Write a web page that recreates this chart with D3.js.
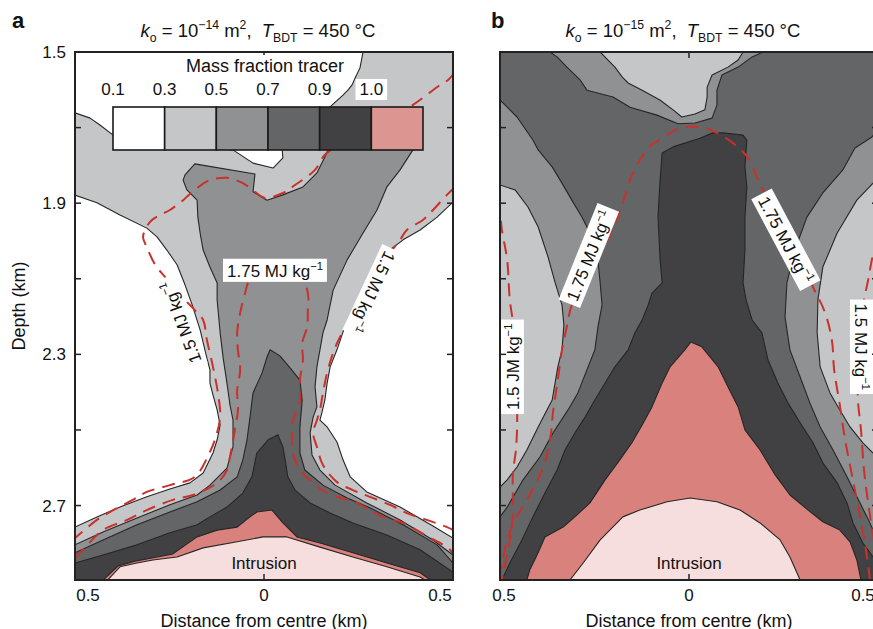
<!DOCTYPE html>
<html>
<head>
<meta charset="utf-8">
<script src="https://cdn.jsdelivr.net/npm/d3@7"></script>
<style>
body { margin: 0; background: #fff; }
text { font-family: "Liberation Sans", Arial, Helvetica, sans-serif; fill: #111; white-space: pre; }
</style>
</head>
<body>
<script>
// contour outlines, [distance from centre (km), depth (km)]
// panel a : ko = 1e-14
var massA03 = [[-0.54,2.95],[-0.54,2.757],[-0.5,2.757],[-0.442,2.730],[-0.381,2.704],[-0.310,2.677],[-0.249,2.656],[-0.196,2.640],[-0.161,2.614],[-0.135,2.561],[-0.124,2.526],[-0.116,2.487],[-0.124,2.447],[-0.135,2.407],[-0.143,2.376],[-0.143,2.341],[-0.153,2.302],[-0.169,2.235],[-0.190,2.169],[-0.209,2.116],[-0.230,2.063],[-0.257,2.024],[-0.283,1.989],[-0.310,1.966],[-0.381,1.931],[-0.442,1.899],[-0.54,1.865],[-0.54,1.661],[-0.5,1.661],[-0.460,1.675],[-0.434,1.693],[-0.399,1.720],[-0.222,1.746],[-0.082,1.759],[-0.029,1.794],[0.024,1.807],[0.050,1.780],[0.048,1.759],[0.122,1.693],[0.209,1.614],[0.222,1.601],[0.233,1.587],[0.241,1.569],[0.254,1.542],[0.262,1.500],[0.265,1.468],[0.545,1.468],[0.545,1.881],[0.5,1.897],[0.458,1.937],[0.413,1.971],[0.368,1.997],[0.333,2.024],[0.307,2.056],[0.280,2.098],[0.254,2.143],[0.228,2.196],[0.209,2.241],[0.193,2.288],[0.175,2.333],[0.167,2.376],[0.161,2.421],[0.153,2.455],[0.148,2.474],[0.167,2.492],[0.193,2.532],[0.209,2.579],[0.228,2.624],[0.272,2.664],[0.360,2.704],[0.447,2.754],[0.5,2.786],[0.545,2.794],[0.545,2.95]];
var massA05 = [[-0.183,1.796],[-0.024,1.823],[-0.029,1.870],[0.008,1.892],[0.050,1.878],[0.103,1.857],[0.140,1.820],[0.161,1.778],[0.169,1.759],[0.201,1.733],[0.373,1.733],[0.394,1.759],[0.360,1.812],[0.325,1.857],[0.299,1.918],[0.262,1.979],[0.220,2.050],[0.183,2.130],[0.175,2.169],[0.167,2.209],[0.156,2.243],[0.148,2.288],[0.140,2.333],[0.135,2.386],[0.140,2.439],[0.130,2.466],[0.122,2.508],[0.127,2.566],[0.148,2.606],[0.188,2.646],[0.272,2.693],[0.360,2.738],[0.447,2.791],[0.5,2.831],[0.545,2.836],[0.545,2.95],[-0.54,2.95],[-0.54,2.804],[-0.5,2.804],[-0.426,2.770],[-0.336,2.733],[-0.249,2.698],[-0.177,2.672],[-0.143,2.646],[-0.098,2.601],[-0.082,2.545],[-0.082,2.474],[-0.090,2.434],[-0.098,2.376],[-0.108,2.310],[-0.116,2.243],[-0.124,2.156],[-0.124,2.111],[-0.143,2.069],[-0.161,2.024],[-0.169,1.979],[-0.175,1.937],[-0.177,1.892],[-0.204,1.865],[-0.214,1.839],[-0.209,1.825]];
var massA07 = [[0.016,2.288],[0.042,2.304],[0.069,2.336],[0.095,2.368],[0.101,2.421],[0.095,2.492],[0.095,2.561],[0.108,2.606],[0.156,2.646],[0.220,2.680],[0.280,2.706],[0.368,2.751],[0.458,2.804],[0.5,2.852],[0.545,2.857],[0.545,2.95],[-0.54,2.95],[-0.54,2.825],[-0.5,2.825],[-0.426,2.791],[-0.336,2.751],[-0.249,2.717],[-0.177,2.690],[-0.116,2.659],[-0.071,2.624],[-0.056,2.579],[-0.045,2.526],[-0.037,2.466],[-0.029,2.402],[-0.005,2.349],[0.008,2.307]];
var massA09 = [[0.011,2.526],[0.037,2.513],[0.050,2.545],[0.056,2.579],[0.063,2.624],[0.082,2.659],[0.122,2.693],[0.175,2.720],[0.235,2.746],[0.325,2.778],[0.413,2.817],[0.5,2.876],[0.545,2.881],[0.545,2.95],[-0.54,2.95],[-0.54,2.852],[-0.5,2.852],[-0.426,2.831],[-0.336,2.804],[-0.249,2.772],[-0.177,2.751],[-0.143,2.730],[-0.098,2.704],[-0.056,2.667],[-0.032,2.624],[-0.019,2.561],[-0.005,2.545]];
var massA10 = [[-0.434,2.905],[-0.386,2.860],[-0.341,2.847],[-0.296,2.839],[-0.241,2.828],[-0.177,2.783],[-0.124,2.765],[-0.071,2.757],[-0.037,2.730],[-0.019,2.717],[0.021,2.712],[0.050,2.746],[0.087,2.783],[0.148,2.799],[0.235,2.825],[0.325,2.852],[0.413,2.878],[0.452,2.905]];
var intrusionA = [[-0.421,2.905],[-0.381,2.862],[-0.336,2.852],[-0.294,2.844],[-0.230,2.836],[-0.161,2.812],[-0.071,2.796],[-0.003,2.783],[0.061,2.783],[0.148,2.810],[0.235,2.836],[0.325,2.862],[0.413,2.889],[0.439,2.905]];
// specific enthalpy contours, panel a
var heatA15L = [[0.505,1.553],[0.487,1.574],[0.466,1.587],[0.394,1.640],[0.307,1.693],[0.214,1.738],[0.161,1.772],[0.135,1.812],[0.082,1.852],[0.050,1.873],[0.003,1.886],[-0.024,1.870],[-0.056,1.847],[-0.098,1.833],[-0.148,1.841],[-0.183,1.865],[-0.214,1.892],[-0.249,1.918],[-0.275,1.931],[-0.302,1.950],[-0.320,1.989],[-0.310,2.016],[-0.288,2.063],[-0.262,2.095],[-0.222,2.143],[-0.183,2.183],[-0.161,2.209],[-0.151,2.262],[-0.135,2.333],[-0.122,2.402],[-0.116,2.466],[-0.130,2.526],[-0.143,2.558],[-0.183,2.624],[-0.249,2.646],[-0.310,2.664],[-0.347,2.685],[-0.399,2.712],[-0.442,2.738],[-0.5,2.786]];
var heatA15R = [[0.505,1.857],[0.484,1.878],[0.447,1.918],[0.421,1.944],[0.378,1.971],[0.360,1.997],[0.320,2.050],[0.280,2.116],[0.241,2.183],[0.201,2.254],[0.183,2.296],[0.167,2.349],[0.156,2.402],[0.148,2.447],[0.140,2.474],[0.130,2.508],[0.140,2.545],[0.156,2.593],[0.193,2.638],[0.235,2.659],[0.280,2.677],[0.333,2.698],[0.378,2.720],[0.431,2.738],[0.484,2.757],[0.505,2.767]];
var heatA175 = [[-0.5,2.839],[-0.479,2.817],[-0.426,2.765],[-0.362,2.738],[-0.310,2.712],[-0.241,2.685],[-0.188,2.672],[-0.124,2.640],[-0.098,2.606],[-0.090,2.571],[-0.077,2.500],[-0.069,2.447],[-0.071,2.394],[-0.063,2.341],[-0.069,2.288],[-0.071,2.243],[-0.063,2.190],[-0.050,2.138],[-0.037,2.103],[0.029,2.077],[0.095,2.090],[0.116,2.138],[0.116,2.183],[0.114,2.228],[0.101,2.270],[0.103,2.315],[0.095,2.368],[0.095,2.421],[0.077,2.474],[0.074,2.519],[0.077,2.561],[0.095,2.606],[0.130,2.640],[0.167,2.667],[0.246,2.693],[0.315,2.730],[0.368,2.746],[0.426,2.778],[0.492,2.817],[0.505,2.839]];

// panel b : ko = 1e-15
var massB05 = [[-0.526,1.468],[-0.235,1.468],[-0.235,1.500],[-0.196,1.540],[-0.177,1.566],[-0.161,1.582],[-0.124,1.601],[-0.077,1.627],[-0.042,1.653],[-0.019,1.672],[0.016,1.664],[0.042,1.653],[0.048,1.619],[0.048,1.593],[0.061,1.561],[0.103,1.540],[0.130,1.521],[0.143,1.500],[0.146,1.468],[0.532,1.468],[0.532,1.825],[0.487,1.847],[0.444,1.892],[0.392,1.979],[0.354,2.069],[0.341,2.156],[0.339,2.243],[0.347,2.333],[0.373,2.402],[0.399,2.447],[0.426,2.492],[0.460,2.534],[0.487,2.561],[0.532,2.579],[0.532,2.95],[-0.526,2.95],[-0.526,2.651],[-0.5,2.651],[-0.481,2.632],[-0.455,2.598],[-0.429,2.553],[-0.399,2.492],[-0.362,2.421],[-0.347,2.333],[-0.336,2.288],[-0.331,2.222],[-0.336,2.169],[-0.354,2.111],[-0.373,2.042],[-0.399,1.963],[-0.426,1.910],[-0.460,1.865],[-0.5,1.852],[-0.526,1.852]];
var massB07 = [[-0.526,1.468],[-0.373,1.468],[-0.368,1.500],[-0.349,1.513],[-0.323,1.540],[-0.288,1.574],[-0.270,1.601],[-0.201,1.619],[-0.156,1.646],[-0.085,1.667],[-0.029,1.690],[0.016,1.688],[0.061,1.675],[0.074,1.640],[0.074,1.601],[0.087,1.561],[0.130,1.540],[0.167,1.513],[0.196,1.500],[0.198,1.468],[0.532,1.468],[0.532,1.693],[0.5,1.701],[0.484,1.725],[0.439,1.754],[0.407,1.812],[0.354,1.873],[0.312,1.937],[0.280,2.024],[0.259,2.111],[0.254,2.201],[0.267,2.288],[0.294,2.360],[0.320,2.429],[0.347,2.492],[0.381,2.553],[0.418,2.624],[0.444,2.677],[0.471,2.730],[0.487,2.765],[0.532,2.791],[0.532,2.95],[-0.526,2.95],[-0.526,2.733],[-0.5,2.730],[-0.481,2.704],[-0.439,2.632],[-0.394,2.571],[-0.360,2.508],[-0.320,2.447],[-0.294,2.402],[-0.267,2.333],[-0.249,2.288],[-0.241,2.228],[-0.230,2.169],[-0.235,2.111],[-0.241,2.050],[-0.257,1.989],[-0.283,1.937],[-0.310,1.892],[-0.336,1.847],[-0.362,1.804],[-0.399,1.759],[-0.413,1.733],[-0.455,1.672],[-0.5,1.627],[-0.526,1.619]];
var massB09 = [[-0.071,1.767],[-0.042,1.751],[0.029,1.728],[0.063,1.714],[0.090,1.714],[0.143,1.720],[0.153,1.733],[0.148,1.804],[0.153,1.857],[0.148,1.937],[0.148,2.024],[0.143,2.111],[0.151,2.156],[0.167,2.209],[0.193,2.243],[0.209,2.315],[0.235,2.376],[0.262,2.429],[0.294,2.481],[0.328,2.534],[0.354,2.587],[0.392,2.640],[0.418,2.693],[0.434,2.746],[0.460,2.799],[0.487,2.836],[0.532,2.857],[0.532,2.95],[-0.513,2.95],[-0.495,2.897],[-0.474,2.852],[-0.442,2.791],[-0.413,2.730],[-0.381,2.667],[-0.349,2.606],[-0.328,2.553],[-0.302,2.508],[-0.275,2.466],[-0.249,2.421],[-0.222,2.376],[-0.196,2.333],[-0.161,2.288],[-0.143,2.243],[-0.124,2.209],[-0.108,2.169],[-0.098,2.138],[-0.071,2.111],[-0.077,2.042],[-0.082,1.937],[-0.077,1.847]];
var massB10 = [[0.005,2.267],[0.034,2.280],[0.077,2.333],[0.103,2.386],[0.130,2.439],[0.148,2.500],[0.188,2.553],[0.228,2.619],[0.267,2.672],[0.315,2.712],[0.354,2.743],[0.399,2.765],[0.426,2.796],[0.444,2.844],[0.455,2.897],[0.455,2.95],[-0.434,2.95],[-0.429,2.897],[-0.421,2.870],[-0.402,2.831],[-0.381,2.783],[-0.333,2.757],[-0.302,2.730],[-0.262,2.693],[-0.222,2.632],[-0.183,2.579],[-0.151,2.534],[-0.124,2.487],[-0.098,2.439],[-0.071,2.376],[-0.050,2.333],[-0.011,2.288]];
var intrusionB = [[-0.328,2.95],[-0.315,2.897],[-0.280,2.852],[-0.235,2.791],[-0.175,2.730],[-0.130,2.712],[-0.058,2.690],[0.003,2.680],[0.074,2.690],[0.135,2.712],[0.188,2.746],[0.241,2.791],[0.267,2.836],[0.294,2.897],[0.304,2.95]];
var heatB15L = [[-0.508,1.892],[-0.5,1.926],[-0.495,1.971],[-0.481,2.050],[-0.474,2.156],[-0.463,2.235],[-0.458,2.341],[-0.455,2.421],[-0.455,2.500],[-0.458,2.553],[-0.466,2.619],[-0.466,2.725],[-0.474,2.791],[-0.484,2.844],[-0.495,2.897]];
var heatB15R = [[0.505,1.992],[0.487,2.037],[0.474,2.103],[0.463,2.156],[0.452,2.235],[0.447,2.341],[0.447,2.421],[0.455,2.500],[0.463,2.606],[0.474,2.693],[0.487,2.778],[0.5,2.844]];
var heatB175 = [[-0.5,2.892],[-0.492,2.844],[-0.481,2.791],[-0.460,2.738],[-0.429,2.685],[-0.394,2.619],[-0.376,2.566],[-0.365,2.508],[-0.360,2.455],[-0.349,2.381],[-0.336,2.288],[-0.325,2.235],[-0.310,2.169],[-0.288,2.130],[-0.249,2.063],[-0.209,1.984],[-0.177,1.905],[-0.156,1.839],[-0.130,1.786],[-0.103,1.749],[-0.058,1.720],[-0.024,1.701],[0.003,1.698],[0.042,1.701],[0.074,1.714],[0.116,1.741],[0.156,1.780],[0.183,1.839],[0.214,1.905],[0.254,1.984],[0.294,2.050],[0.328,2.122],[0.360,2.190],[0.378,2.262],[0.384,2.341],[0.399,2.434],[0.413,2.526],[0.431,2.619],[0.452,2.725],[0.468,2.817],[0.479,2.897]];

// labels: [x, depth, angle, text]
var labelsA = [[0.029,2.095,0,"1.75 MJ kg"],[-0.204,2.209,-110,"1.5 MJ kg"],[0.272,2.127,115,"1.5 MJ kg"]];
var labelsB = [[-0.249,2.045,-68,"1.75 MJ kg"],[0.241,2.005,62,"1.75 MJ kg"],[-0.450,2.333,-90,"1.5 JM kg"],[0.439,2.280,90,"1.5 MJ kg"]];

var yTicks = [1.7, 1.9, 2.1, 2.3, 2.5, 2.7];
var yTickLabels = [1.5, 1.9, 2.3, 2.7];
var xTickLabels = [-0.5, 0, 0.5];
var legendBreaks = ["0.1", "0.3", "0.5", "0.7", "0.9", "1.0"];
var legendFills = ["#ffffff", "#c5c6c8", "#909193", "#646567", "#414143", "#dd9592"];

var fills = { m03: "#c5c6c8", m05: "#909193", m07: "#646567", m09: "#414143", m10: "#d9827d", intr: "#f5dedd" };

var width = 873, height = 629;
var svg = d3.select("body").append("svg").attr("width", width).attr("height", height);

// text with sub/superscripts: parts = [[string, kind]]
function rich(t, parts, size) {
  var off = 0;
  parts.forEach(function(p) {
    var want = p[1] == "sup" ? -0.42 * size : (p[1] == "sub" ? 0.25 * size : 0);
    var ts = t.append("tspan").text(p[0]).attr("dy", want - off);
    if (p[1] == "sup" || p[1] == "sub") ts.attr("font-size", size * 0.66);
    if (p[1] == "i") ts.attr("font-style", "italic");
    off = want;
  });
}

function boxedLabel(g, px, py, angle, parts, size) {
  var lg = g.append("g").attr("transform", "translate(" + px + "," + py + ") rotate(" + angle + ")");
  var t = lg.append("text").attr("text-anchor", "middle").attr("dy", "0.35em").attr("font-size", size);
  rich(t, parts, size);
  var bb = t.node().getBBox();
  lg.insert("rect", "text").attr("x", bb.x - 4).attr("y", bb.y - 1).attr("width", bb.width + 8).attr("height", bb.height + 2).attr("fill", "#fff");
}

function drawPanel(cfg) {
  var x = d3.scaleLinear().domain([-0.5, 0.5]).range([cfg.left, cfg.left + 378]);
  var y = d3.scaleLinear().domain([1.5, 2.897]).range([52, 580]);
  var g = svg.append("g");

  svg.append("clipPath").attr("id", "clip" + cfg.id).append("rect")
    .attr("x", x(-0.5)).attr("y", y(1.5)).attr("width", x(0.5) - x(-0.5)).attr("height", y(2.897) - y(1.5));
  var plot = g.append("g").attr("clip-path", "url(#clip" + cfg.id + ")");

  plot.append("rect").attr("x", x(-0.5)).attr("y", y(1.5))
    .attr("width", x(0.5) - x(-0.5)).attr("height", y(2.897) - y(1.5)).attr("fill", cfg.bg);

  var poly = d3.line().x(d => x(d[0])).y(d => y(d[1]));
  cfg.layers.forEach(function(l) {
    plot.append("path").attr("d", poly(l[0]) + "Z").attr("fill", l[1])
      .attr("stroke", "#262626").attr("stroke-width", 1.1).attr("stroke-linejoin", "round");
  });

  var smooth = d3.line().curve(d3.curveCatmullRom).x(d => x(d[0])).y(d => y(d[1]));
  cfg.heat.forEach(function(h) {
    plot.append("path").attr("d", smooth(h)).attr("fill", "none")
      .attr("stroke", "#c8322c").attr("stroke-width", 2).attr("stroke-dasharray", "13,8");
  });

  cfg.labels.forEach(function(l) {
    boxedLabel(plot, x(l[0]), y(l[1]), l[2], [[l[3], ""], ["\u22121", "sup"]], 17);
  });

  plot.append("text").attr("x", x(0)).attr("y", y(2.852)).attr("dy", "0.35em")
    .attr("text-anchor", "middle").attr("font-size", 17).text("Intrusion");

  // ticks, inward on all sides
  yTicks.forEach(function(v) {
    g.append("line").attr("x1", x(-0.5)).attr("x2", x(-0.5) + 6).attr("y1", y(v)).attr("y2", y(v)).attr("stroke", "#222").attr("stroke-width", 1.5);
    g.append("line").attr("x1", x(0.5)).attr("x2", x(0.5) - 6).attr("y1", y(v)).attr("y2", y(v)).attr("stroke", "#222").attr("stroke-width", 1.5);
  });
  g.append("line").attr("x1", x(0)).attr("x2", x(0)).attr("y1", y(1.5)).attr("y2", y(1.5) + 6).attr("stroke", "#222").attr("stroke-width", 1.5);
  g.append("line").attr("x1", x(0)).attr("x2", x(0)).attr("y1", y(2.897)).attr("y2", y(2.897) - 6).attr("stroke", "#222").attr("stroke-width", 1.5);

  g.append("rect").attr("x", x(-0.5)).attr("y", y(1.5)).attr("width", x(0.5) - x(-0.5)).attr("height", y(2.897) - y(1.5))
    .attr("fill", "none").attr("stroke", "#222").attr("stroke-width", 2);

  xTickLabels.forEach(function(v, i) {
    g.append("text").attr("x", x(v) + cfg.xLabelShift[i]).attr("y", 601).attr("text-anchor", "middle")
      .attr("font-size", 17).text(Math.abs(v));
  });
  if (cfg.yLabels) {
    yTickLabels.forEach(function(v) {
      g.append("text").attr("x", x(-0.5) - 9).attr("y", y(v)).attr("dy", "0.36em").attr("text-anchor", "end")
        .attr("font-size", 17).text(d3.format(".1f")(v));
    });
    g.append("text").attr("transform", "translate(25," + y(2.172) + ") rotate(-90)").attr("text-anchor", "middle")
      .attr("font-size", 18).text("Depth (km)");
  }
  g.append("text").attr("x", x(0)).attr("y", 627).attr("text-anchor", "middle").attr("font-size", 18)
    .text("Distance from centre (km)");

  var title = g.append("text").attr("x", x(0) + cfg.titleShift).attr("y", 37).attr("text-anchor", "middle").attr("font-size", 18.5);
  rich(title, [["k", "i"], ["o", "sub"], [" = 10", ""], ["\u2212" + cfg.exp, "sup"], [" m", ""], ["2", "sup"], [",  ", ""], ["T", "i"], ["BDT", "sub"], [" = 450 \u00b0C", ""]], 18.5);

  g.append("text").attr("x", x(-0.5) - cfg.letterGap).attr("y", 28).attr("font-size", 22).attr("font-weight", "bold").text(cfg.id);
  return g;
}

drawPanel({
  id: "a", left: 75, bg: "#ffffff", exp: "14", titleShift: -6, letterGap: 63, yLabels: true,
  xLabelShift: [13, 0, -13],
  layers: [[massA03, fills.m03], [massA05, fills.m05], [massA07, fills.m07], [massA09, fills.m09], [massA10, fills.m10], [intrusionA, fills.intr]],
  heat: [heatA15L, heatA15R, heatA175],
  labels: labelsA
});

drawPanel({
  id: "b", left: 500, bg: fills.m03, exp: "15", titleShift: -6, letterGap: 9, yLabels: false,
  xLabelShift: [4, 0, -15],
  layers: [[massB05, fills.m05], [massB07, fills.m07], [massB09, fills.m09], [massB10, fills.m10], [intrusionB, fills.intr]],
  heat: [heatB15L, heatB15R, heatB175],
  labels: labelsB
});

// legend for mass fraction tracer (panel a)
var leg = svg.append("g");
var lx = d3.scaleLinear().domain([0, legendBreaks.length]).range([113, 423]);
legendFills.forEach(function(f, i) {
  leg.append("rect").attr("x", lx(i)).attr("y", 107).attr("width", lx(i + 1) - lx(i)).attr("height", 43)
    .attr("fill", f).attr("stroke", "#1a1a1a").attr("stroke-width", 1.6);
});
legendBreaks.forEach(function(b, i) {
  boxedLabel(leg, lx(i), 95, 0, [[b, ""]], 17);
});
boxedLabel(leg, 265, 72, 0, [["Mass fraction tracer", ""]], 18);
</script>
</body>
</html>
